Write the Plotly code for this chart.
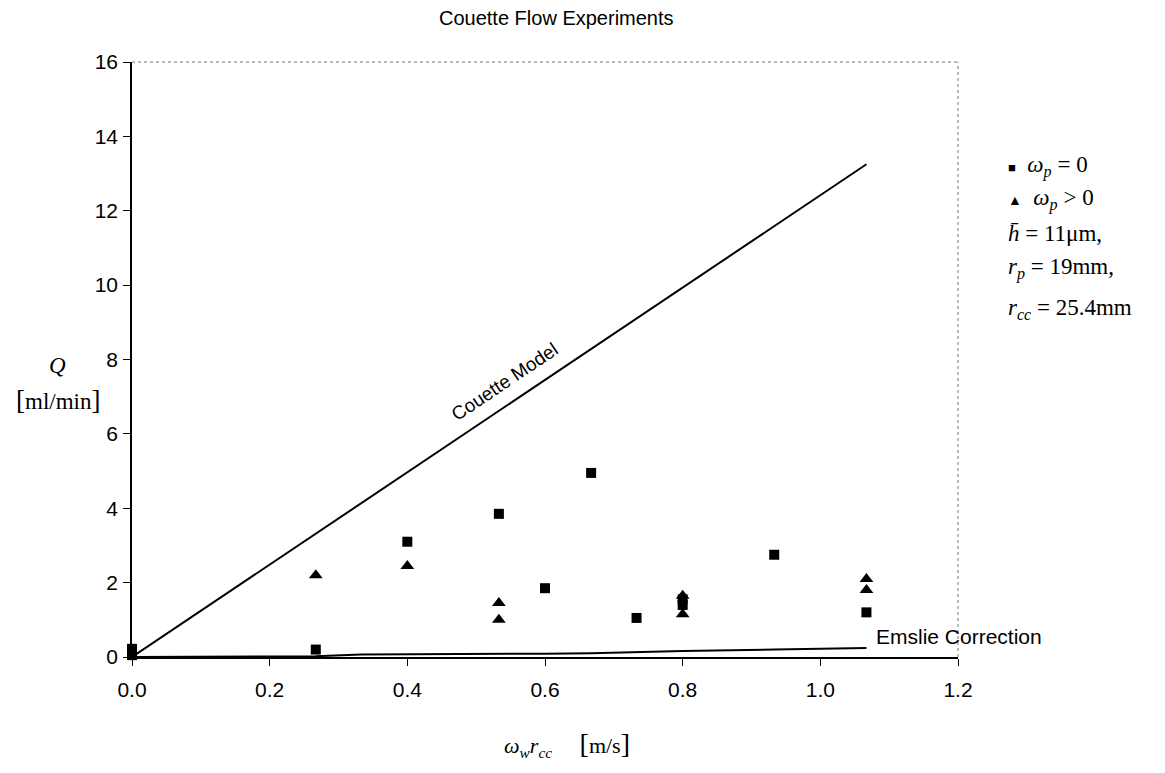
import plotly.graph_objects as go

# ---- data ----
sq_x = [0.0, 0.0, 0.267, 0.4, 0.533, 0.6, 0.667, 0.733, 0.8, 0.8, 0.933, 1.067]
sq_y = [0.22, 0.05, 0.2, 3.1, 3.85, 1.85, 4.95, 1.05, 1.4, 1.55, 2.75, 1.2]
tri_x = [0.267, 0.4, 0.533, 0.533, 0.8, 0.8, 1.067, 1.067]
tri_y = [2.2, 2.45, 1.45, 1.0, 1.65, 1.15, 2.1, 1.8]
couette_x = [0.0, 1.067]
couette_y = [0.0, 13.25]
emslie_x = [0.0, 0.267, 0.333, 0.4, 0.533, 0.6, 0.667, 0.733, 0.8, 0.933, 1.067]
emslie_y = [0.0, 0.02, 0.07, 0.07, 0.08, 0.09, 0.1, 0.13, 0.16, 0.2, 0.24]
x_ticks = [0.0, 0.2, 0.4, 0.6, 0.8, 1.0, 1.2]
y_ticks = [0, 2, 4, 6, 8, 10, 12, 14, 16]
legend_lines = [
    "<span style='font-size:13px'>■</span>&nbsp;&nbsp;<i>ω</i><sub><i>p</i></sub>&nbsp;=&nbsp;0",
    "<span style='font-size:14px'>▲</span>&nbsp;&nbsp;<i>ω</i><sub><i>p</i></sub>&nbsp;>&nbsp;0",
    "<i>h̄</i>&nbsp;=&nbsp;11μm,",
    "<i>r</i><sub><i>p</i></sub>&nbsp;=&nbsp;19mm,",
    "<i>r</i><sub><i>cc</i></sub>&nbsp;=&nbsp;25.4mm",
]
legend_levels = [13.2, 12.3, 11.4, 10.45, 9.35]

SANS = "Liberation Sans, Arial, sans-serif"
SERIF = "Liberation Serif, Times New Roman, serif"

fig = go.Figure()
fig.add_trace(go.Scatter(x=couette_x, y=couette_y, mode="lines",
                         line=dict(color="black", width=2), showlegend=False,
                         hoverinfo="skip"))
fig.add_trace(go.Scatter(x=emslie_x, y=emslie_y, mode="lines",
                         line=dict(color="black", width=2), showlegend=False,
                         hoverinfo="skip"))
fig.add_trace(go.Scatter(x=sq_x, y=sq_y, mode="markers", cliponaxis=False,
                         marker=dict(symbol="square", size=10, color="black"),
                         name="ω_p = 0", showlegend=False))
fig.add_trace(go.Scatter(x=tri_x, y=tri_y, mode="markers", cliponaxis=False,
                         marker=dict(symbol="triangle-up", size=12, color="black"),
                         name="ω_p > 0", showlegend=False))

annotations = [
    dict(text="Couette Flow Experiments", xref="paper", yref="paper",
         x=0.5145, y=1.0, yanchor="middle", yshift=44, showarrow=False,
         font=dict(family=SANS, size=20, color="black")),
    dict(text="Couette Model", x=0.542, y=7.4, xref="x", yref="y",
         showarrow=False, textangle=-33.9,
         font=dict(family=SANS, size=19, color="black")),
    dict(text="Emslie Correction", x=1.078, y=0.56, xref="x", yref="y",
         xanchor="left", showarrow=False,
         font=dict(family=SANS, size=21, color="black")),
    dict(text="<i>Q</i>", xref="paper", yref="y", x=-0.09, y=7.85,
         xanchor="center", showarrow=False,
         font=dict(family=SERIF, size=23, color="black")),
    dict(text="<span style='font-size:27px'>[</span>ml/min<span style='font-size:27px'>]</span>",
         xref="paper", yref="y", x=-0.09, y=6.9, xanchor="center",
         showarrow=False, font=dict(family=SERIF, size=23, color="black")),
    dict(text="<i>ω<sub>w</sub>r<sub>cc</sub></i>&nbsp;&nbsp;&nbsp;&nbsp;&nbsp;"
              "<span style='font-size:28px'>[</span>m/s<span style='font-size:28px'>]</span>",
         xref="paper", yref="paper", x=0.527, y=-0.147, xanchor="center",
         yanchor="middle", showarrow=False,
         font=dict(family=SERIF, size=22, color="black")),
]
for txt, lvl in zip(legend_lines, legend_levels):
    annotations.append(dict(text=txt, xref="paper", yref="y", x=1.058, y=lvl,
                            xanchor="left", yanchor="middle", showarrow=False,
                            font=dict(family=SERIF, size=23, color="black")))

fig.update_layout(
    width=1165, height=773,
    margin=dict(l=132, r=207, t=62, b=116),
    paper_bgcolor="white", plot_bgcolor="white",
    annotations=annotations,
    showlegend=False,
    shapes=[
        dict(type="line", xref="paper", yref="paper", x0=0, x1=1, y0=1, y1=1,
             line=dict(color="#777", width=1, dash="dot")),
        dict(type="line", xref="paper", yref="paper", x0=1, x1=1, y0=0, y1=1,
             line=dict(color="#777", width=1, dash="dot")),
    ],
)
fig.update_xaxes(range=[0, 1.2], tickvals=x_ticks,
                 ticktext=[f"{v:.1f}" for v in x_ticks],
                 showgrid=False, zeroline=False, showline=True,
                 linecolor="black", linewidth=1.5, ticks="outside", ticklen=7,
                 ticklabelstandoff=6,
                 tickcolor="black", tickfont=dict(family=SANS, size=21, color="black"))
fig.update_yaxes(range=[0, 16], tickvals=y_ticks,
                 ticktext=[str(v) for v in y_ticks],
                 showgrid=False, zeroline=False, showline=True,
                 linecolor="black", linewidth=1.5, ticks="outside", ticklen=7,
                 ticklabelstandoff=1,
                 tickcolor="black", tickfont=dict(family=SANS, size=21, color="black"))

fig.write_html("out.html")
